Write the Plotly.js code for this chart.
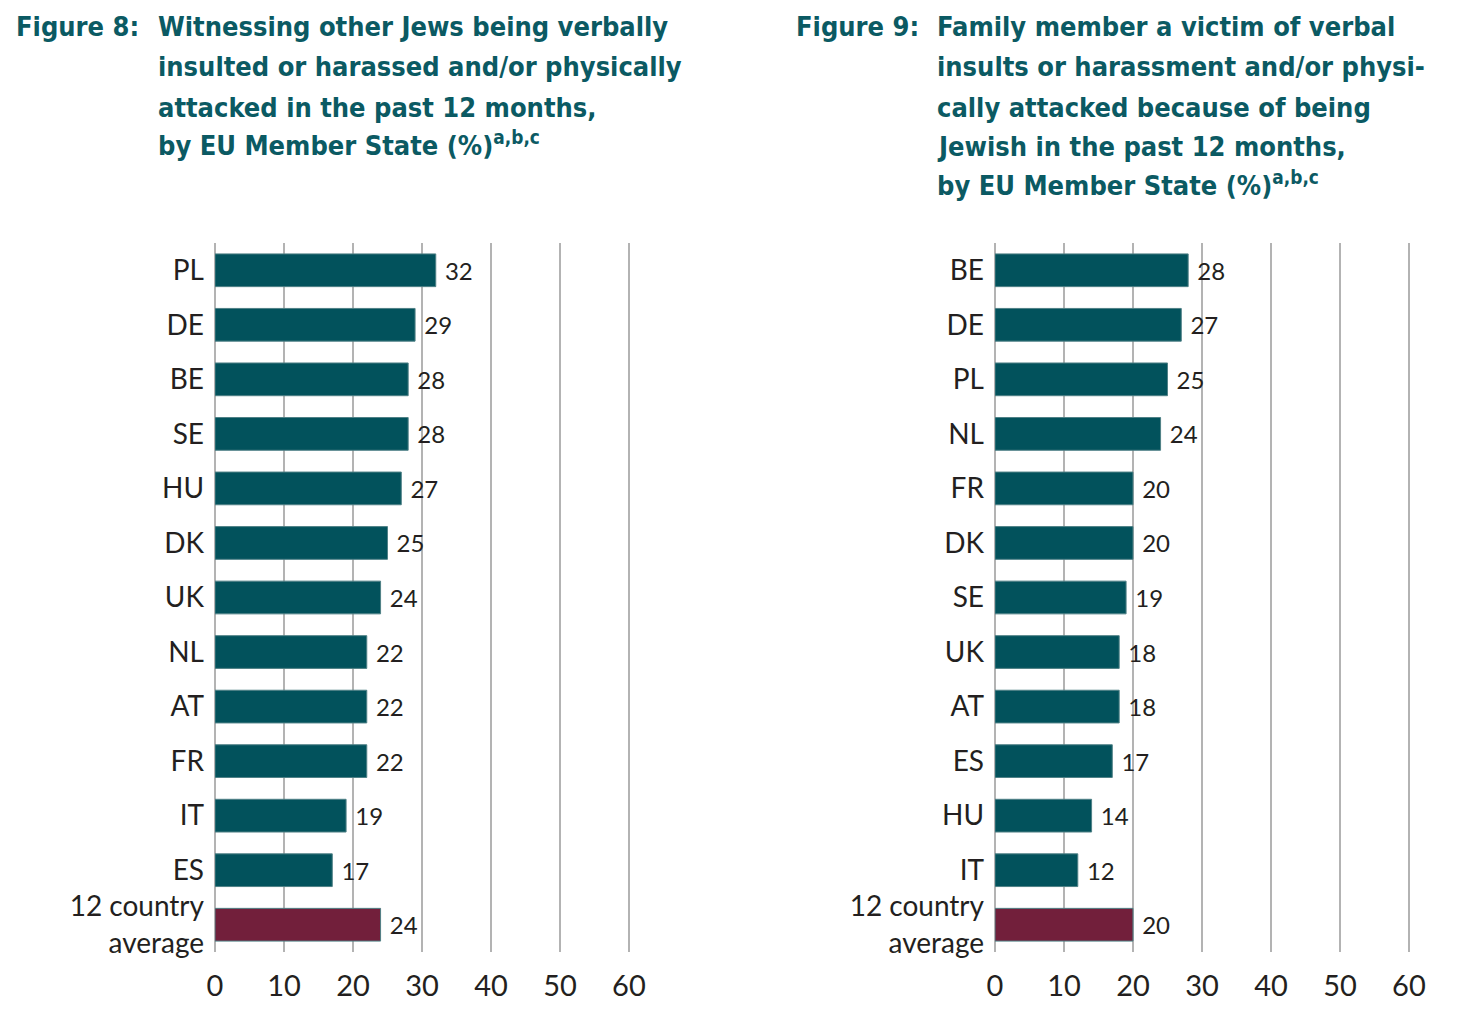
<!DOCTYPE html>
<html>
<head>
<meta charset="utf-8">
<script src="https://cdn.plot.ly/plotly-3.0.1.min.js"></script>
<style>
  html, body { margin: 0; padding: 0; background: #fff; }
  #chart { width: 1463px; height: 1023px; }
</style>
</head>
<body>
<div id="chart"></div>
<script>
// Figure 8: witnessing other Jews being insulted / attacked
const fig8Countries = ["PL", "DE", "BE", "SE", "HU", "DK", "UK", "NL", "AT", "FR", "IT", "ES", "12 country<br>average"];
const fig8Values = [32, 29, 28, 28, 27, 25, 24, 22, 22, 22, 19, 17, 24];

// Figure 9: family member a victim
const fig9Countries = ["BE", "DE", "PL", "NL", "FR", "DK", "SE", "UK", "AT", "ES", "HU", "IT", "12 country<br>average"];
const fig9Values = [28, 27, 25, 24, 20, 20, 19, 18, 18, 17, 14, 12, 20];

const xTicks = [0, 10, 20, 30, 40, 50, 60];

const fig8Title = [
  "Witnessing other Jews being verbally",
  "insulted or harassed and/or physically",
  "attacked in the past 12 months,",
  "by EU Member State (%)<sup>a,b,c</sup>",
];
const fig9Title = [
  "Family member a victim of verbal",
  "insults or harassment and/or physi-",
  "cally attacked because of being",
  "Jewish in the past 12 months,",
  "by EU Member State (%)<sup>a,b,c</sup>",
];

const TEAL = "#02525c";
const MAROON = "#721f3b";
const TITLE_COLOR = "#0b5a63";
const TEXT_COLOR = "#231f20";
const GRID = "#b3b3b3";

const W = 1463, H = 1023;
const px = (x) => x / W;
const py = (y) => 1 - y / H;

const barColors = (cats) =>
  cats.map((c) => (c.startsWith("12 country") ? MAROON : TEAL));

const makeBar = (cats, vals, xa, ya) => ({
  type: "bar",
  orientation: "h",
  y: cats,
  x: vals,
  xaxis: xa,
  yaxis: ya,
  marker: { color: barColors(cats), line: { color: "#4f8086", width: 1 } },
  text: vals.map((v) => "\u00a0" + v),
  textposition: "outside",
  cliponaxis: false,
  textfont: { family: "Lato, 'Open Sans', sans-serif", size: 24, color: TEXT_COLOR },
  hoverinfo: "x+y",
  showlegend: false,
});

const xAxis = (domain) => ({
  domain: domain,
  range: [0, 60.3],
  tickvals: xTicks,
  showgrid: true,
  gridcolor: GRID,
  gridwidth: 2,
  zeroline: true,
  zerolinecolor: GRID,
  zerolinewidth: 2,
  showline: false,
  ticks: "",
  ticklabelstandoff: 14,
  tickfont: { family: "Lato, 'Open Sans', sans-serif", size: 29, color: TEXT_COLOR },
  fixedrange: true,
});

const yAxis = (anchor) => ({
  domain: [py(952), py(243)],
  anchor: anchor,
  autorange: "reversed",
  type: "category",
  showgrid: false,
  zeroline: false,
  showline: false,
  ticks: "",
  ticklabelstandoff: 10,
  tickfont: { family: "Lato, 'Open Sans', sans-serif", size: 28, color: TEXT_COLOR },
  fixedrange: true,
});

const titleFont = {
  family: "'DejaVu Sans Condensed', 'DejaVu Sans', sans-serif",
  size: 27,
  color: TITLE_COLOR,
  weight: "bold",
  stretch: "condensed",
};

const titleNote = (x, y, text) => ({
  xref: "paper",
  yref: "paper",
  x: px(x),
  y: py(y),
  xanchor: "left",
  yanchor: "middle",
  align: "left",
  showarrow: false,
  text: text,
  font: titleFont,
});

// lines with a superscript get a taller box, so nudge them up a little
const titleLines = (x, lines) =>
  lines.map((line, i) =>
    titleNote(x, 27 + i * 40 - (line.includes("<sup>") ? 4 : 0), line));

const layout = {
  width: W,
  height: H,
  margin: { l: 0, r: 0, t: 0, b: 0 },
  paper_bgcolor: "#fff",
  plot_bgcolor: "#fff",
  bargap: 0.4,
  xaxis: xAxis([px(215), px(631)]),
  yaxis: yAxis("x"),
  xaxis2: Object.assign(xAxis([px(995), px(1411)]), { anchor: "y2" }),
  yaxis2: yAxis("x2"),
  annotations: [
    titleNote(14, 27, "Figure 8:"),
    ...titleLines(156, fig8Title),
    titleNote(794, 27, "Figure 9:"),
    ...titleLines(935, fig9Title),
  ],
};

Plotly.newPlot(
  "chart",
  [makeBar(fig8Countries, fig8Values, "x", "y"), makeBar(fig9Countries, fig9Values, "x2", "y2")],
  layout,
  { displayModeBar: false, staticPlot: true }
);
</script>
</body>
</html>
